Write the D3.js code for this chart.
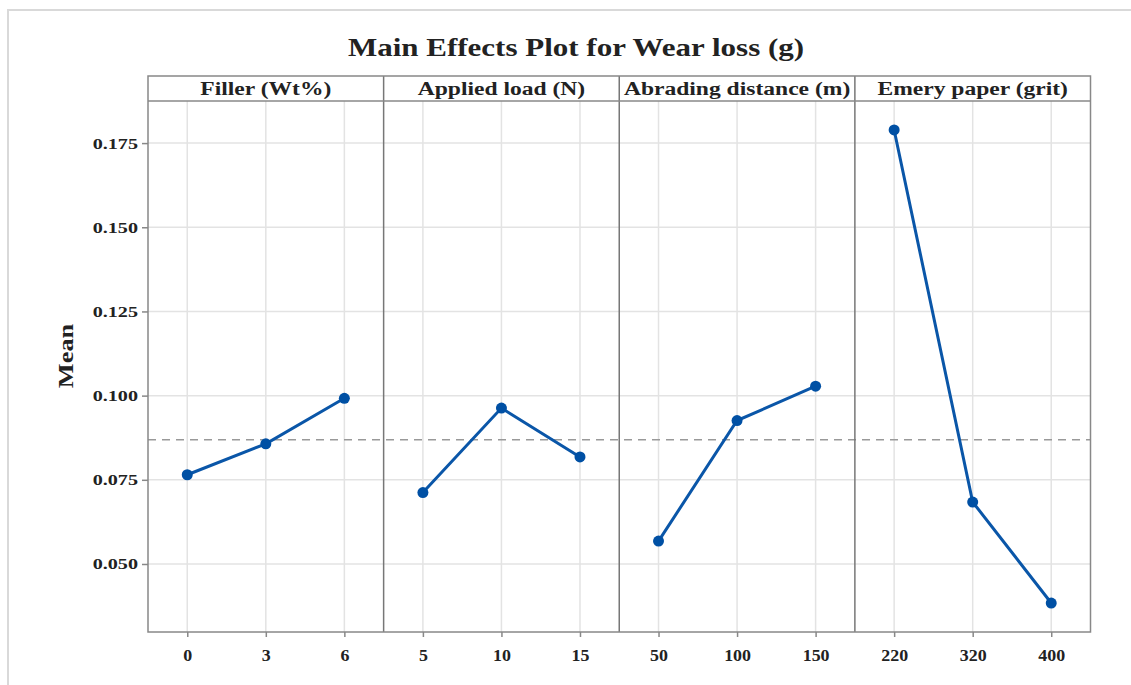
<!DOCTYPE html>
<html>
<head>
<meta charset="utf-8">
<script src="https://cdn.jsdelivr.net/npm/d3@7"></script>
<style>
  body { margin: 0; background: #fff; }
  svg text { font-family: "Liberation Serif", "Times New Roman", serif; font-weight: bold; fill: #222; }
</style>
</head>
<body>
<div id="root"></div>
<script>
// Data
const factors = ['Filler (Wt%)', 'Applied load (N)', 'Abrading distance (m)', 'Emery paper (grit)'];
const fillerLevels = ['0', '3', '6'];
const fillerMeans = [0.0765, 0.0857, 0.0992];
const loadLevels = ['5', '10', '15'];
const loadMeans = [0.0712, 0.0963, 0.0818];
const distanceLevels = ['50', '100', '150'];
const distanceMeans = [0.0568, 0.0926, 0.1028];
const emeryLevels = ['220', '320', '400'];
const emeryMeans = [0.1789, 0.0684, 0.0384];
const grandMean = 0.0869;
const yTicks = [0.050, 0.075, 0.100, 0.125, 0.150, 0.175];

const panels = [
    { name: factors[0], levels: fillerLevels, means: fillerMeans },
    { name: factors[1], levels: loadLevels, means: loadMeans },
    { name: factors[2], levels: distanceLevels, means: distanceMeans },
    { name: factors[3], levels: emeryLevels, means: emeryMeans }
];

const W = 1131, H = 685;
const plot = { left: 148, right: 1090.5, top: 101, bottom: 632, headerTop: 76 };
// the source figure was stretched sideways, so its text is wider than normal
const stretch = 1.24;

const svg = d3.select('#root')
    .append('svg')
    .attr('width', W)
    .attr('height', H);

// outer frame (top and left edge only visible)
svg.append('path')
    .attr('d', `M8,${H} L8,10 L${W},10`)
    .attr('fill', 'none')
    .attr('stroke', '#d9d9d9')
    .attr('stroke-width', 2);

// title
svg.append('text')
    .text('Main Effects Plot for Wear loss (g)')
    .attr('transform', `translate(576,56) scale(${stretch},1)`)
    .attr('text-anchor', 'middle')
    .attr('font-size', 25);

// scales
const xPanel = d3.scaleBand()
    .domain(factors)
    .range([plot.left, plot.right]);

const y = d3.scaleLinear()
    .domain([0.0298, 0.1875])
    .range([plot.bottom, plot.top]);

// y axis label
svg.append('text')
    .text('Mean')
    .attr('transform', `translate(73, 356) rotate(-90) scale(1.32,1)`)
    .attr('text-anchor', 'middle')
    .attr('font-size', 20);

// horizontal grid
svg.append('g')
    .selectAll('line')
    .data(yTicks)
    .enter()
    .append('line')
    .attr('x1', plot.left)
    .attr('x2', plot.right)
    .attr('y1', d => y(d))
    .attr('y2', d => y(d))
    .attr('stroke', '#e3e3e3')
    .attr('stroke-width', 1.5);

// panels
panels.forEach(p => {
    const x0 = xPanel(p.name);
    const xLevel = d3.scalePoint()
        .domain(p.levels)
        .range([x0, x0 + xPanel.bandwidth()])
        .padding(0.5);

    // vertical grid
    svg.append('g')
        .selectAll('line')
        .data(p.levels)
        .enter()
        .append('line')
        .attr('x1', d => xLevel(d))
        .attr('x2', d => xLevel(d))
        .attr('y1', plot.top)
        .attr('y2', plot.bottom)
        .attr('stroke', '#e3e3e3')
        .attr('stroke-width', 1.5);

    // x axis for this panel
    const xAxis = d3.axisBottom(xLevel)
        .tickSize(5)
        .tickSizeOuter(0);
    const gx = svg.append('g')
        .attr('transform', `translate(0,${plot.bottom})`)
        .call(xAxis);
    gx.select('.domain').remove();
    gx.selectAll('line').attr('stroke', '#888').attr('stroke-width', 1.5);
    gx.selectAll('text')
        .attr('dy', '1.3em')
        .attr('transform', 'scale(1.12,1)')
        .attr('font-size', 16)
        .attr('font-family', null)
        .style('fill', '#222');

    // header label
    svg.append('text')
        .text(p.name)
        .attr('transform', `translate(${x0 + xPanel.bandwidth() / 2},${plot.top - 6}) scale(${stretch},1)`)
        .attr('text-anchor', 'middle')
        .attr('font-size', 19);
});

// grand mean dashed line
svg.append('line')
    .attr('x1', plot.left)
    .attr('x2', plot.right)
    .attr('y1', y(grandMean))
    .attr('y2', y(grandMean))
    .attr('stroke', '#999')
    .attr('stroke-width', 1.5)
    .attr('stroke-dasharray', '8,6');

// panel dividers and header frame
svg.append('g')
    .selectAll('line')
    .data(factors.slice(1))
    .enter()
    .append('line')
    .attr('x1', d => xPanel(d))
    .attr('x2', d => xPanel(d))
    .attr('y1', plot.headerTop)
    .attr('y2', plot.bottom)
    .attr('stroke', '#777')
    .attr('stroke-width', 1.5);

svg.append('rect')
    .attr('x', plot.left)
    .attr('y', plot.headerTop)
    .attr('width', plot.right - plot.left)
    .attr('height', plot.bottom - plot.headerTop)
    .attr('fill', 'none')
    .attr('stroke', '#888')
    .attr('stroke-width', 1.5);

svg.append('line')
    .attr('x1', plot.left)
    .attr('x2', plot.right)
    .attr('y1', plot.top)
    .attr('y2', plot.top)
    .attr('stroke', '#888')
    .attr('stroke-width', 1.5);

// y axis
const yAxis = d3.axisLeft(y)
    .tickValues(yTicks)
    .tickFormat(d3.format('.3f'))
    .tickSize(6)
    .tickSizeOuter(0);
const gy = svg.append('g')
    .attr('transform', `translate(${plot.left},0)`)
    .call(yAxis);
gy.select('.domain').remove();
gy.selectAll('line').attr('stroke', '#888').attr('stroke-width', 1.5);
gy.selectAll('text')
    .attr('transform', 'scale(1.3,1)')
    .attr('x', -10 / 1.3)
    .attr('font-size', 15.5)
    .attr('font-family', null)
    .style('fill', '#222');

// lines and points
const line = d3.line()
    .x(d => d.x)
    .y(d => y(d.v));

panels.forEach(p => {
    const x0 = xPanel(p.name);
    const xLevel = d3.scalePoint()
        .domain(p.levels)
        .range([x0, x0 + xPanel.bandwidth()])
        .padding(0.5);
    const pts = p.levels.map((l, i) => ({ x: xLevel(l), v: p.means[i] }));

    svg.append('path')
        .datum(pts)
        .attr('d', line)
        .attr('fill', 'none')
        .attr('stroke', '#0a56a8')
        .attr('stroke-width', 3);

    svg.append('g')
        .selectAll('circle')
        .data(pts)
        .enter()
        .append('circle')
        .attr('cx', d => d.x)
        .attr('cy', d => y(d.v))
        .attr('r', 5.5)
        .attr('fill', '#0050a4');
});
</script>
</body>
</html>
